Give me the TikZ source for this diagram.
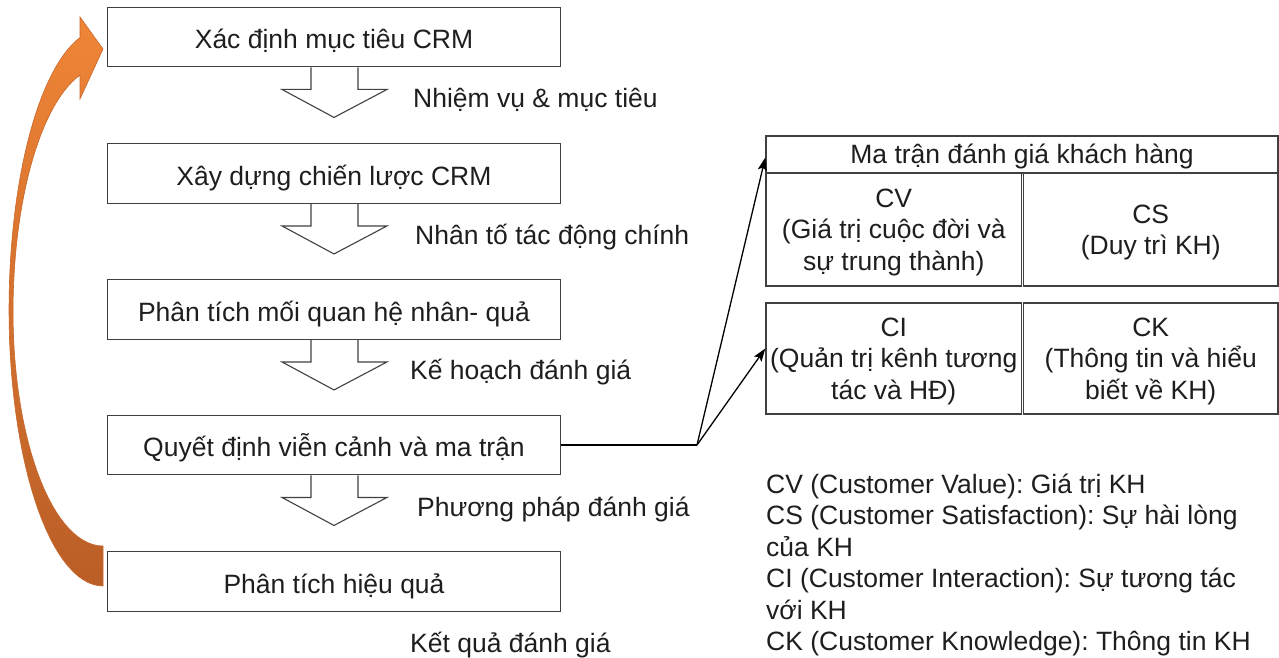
\documentclass[tikz,border=0pt]{standalone}
\usepackage{fontspec}
\setmainfont{Liberation Sans}
\frenchspacing
\usetikzlibrary{arrows.meta,calc}

\definecolor{edge}{HTML}{404040}
\definecolor{ink}{HTML}{1E1E1E}
\definecolor{orangetop}{HTML}{EF8536}
\definecolor{orangebot}{HTML}{BA5E27}
\definecolor{orangeedge}{HTML}{C8672C}

% first-line strut that lowers multi-line cell text a little
\newcommand\toppad{\rule{0pt}{24pt}}

\tikzset{
  txt/.style={text=ink, font=\fontsize{26.5}{31.5}\selectfont},
  stepbox/.style={txt, draw=edge, line width=1.4pt, minimum width=453pt,
    minimum height=59.5pt, inner sep=0pt, text height=23pt, text depth=0pt},
  cell/.style={draw=edge, line width=1.4pt, inner sep=0pt, align=center,
    text=ink, font=\fontsize{26.5}{31.5}\selectfont},
  flowlabel/.style={txt, anchor=base west, inner sep=0pt},
  blockarrow/.style={draw=edge, line width=1.1pt, line join=miter},
  link/.style={draw=black, line width=1.3pt,
    -{Stealth[length=13pt,width=9pt,inset=2.5pt]}},
  feedback/.style={top color=orangetop, bottom color=orangebot,
    draw=orangeedge, line width=0.6pt},
  legend/.style={align=left, inner sep=0pt, text=ink,
    font=\fontsize{26.5}{31.5}\selectfont}
}

% hollow block arrow hanging below a step box
\newcommand\flowarrow[1]{%
  \draw[blockarrow] ($(#1.south)+(-23,0)$) -- ++(0,22) -- ++(-29,0)
    -- ++(52,28) -- ++(53,-28) -- ++(-29,0) -- ++(0,-22);}

\begin{document}
\begin{tikzpicture}[x=1pt,y=-1pt]
\useasboundingbox (0,0) rectangle (1279,658);

% feedback arrow from the last step back to the first
\path[feedback] (103,546)
  -- plot[domain=90:180,samples=30] ({103+90*cos(\x)},{312+234*sin(\x)})
  -- plot[domain=180:255.2,samples=30] ({103+90*cos(\x)},{312+245*sin(\x)})
  -- (80,99) -- (103,49) -- (80,17) -- (80,38)
  -- plot[domain=255.8:180,samples=30] ({103+94*cos(\x)},{310+281*sin(\x)})
  -- plot[domain=180:90,samples=30] ({103+94*cos(\x)},{310+276*sin(\x)})
  -- cycle;

% process steps
\node[stepbox] (b1) at (334,37)    {Xác định mục tiêu CRM};
\node[stepbox] (b2) at (334,173.5) {Xây dựng chiến lược CRM};
\node[stepbox] (b3) at (334,309.5) {Phân tích mối quan hệ nhân- quả};
\node[stepbox] (b4) at (334,445)   {Quyết định viễn cảnh và ma trận};
\node[stepbox] (b5) at (334,581.5) {Phân tích hiệu quả};

\flowarrow{b1}
\flowarrow{b2}
\flowarrow{b3}
\flowarrow{b4}

\node[flowlabel] (l1) at (413,108) {Nhiệm vụ \& mục tiêu};
\node[flowlabel] (l2) at (415,244) {Nhân tố tác động chính};
\node[flowlabel] (l3) at (410,379) {Kế hoạch đánh giá};
\node[flowlabel] (l4) at (417,516) {Phương pháp đánh giá};
\node[flowlabel] (l5) at (410,652) {Kết quả đánh giá};

% customer evaluation matrix
\node[cell, minimum width=512pt, minimum height=37pt,
      text height=19pt, text depth=0pt] (mt) at (1022,154.5)
  {Ma trận đánh giá khách hàng};
\node[cell, minimum width=255.5pt, minimum height=113pt] (cv) at (893.75,229.5)
  {\toppad CV\\(Giá trị cuộc đời và\\sự trung thành)};
\node[cell, minimum width=254.5pt, minimum height=113pt] (cs) at (1150.75,229.5)
  {\toppad CS\\(Duy trì KH)};
\node[cell, minimum width=255.5pt, minimum height=111pt] (ci) at (893.75,358.5)
  {\toppad CI\\(Quản trị kênh tương\\tác và HĐ)};
\node[cell, minimum width=254.5pt, minimum height=111pt] (ck) at (1150.75,358.5)
  {\toppad CK\\(Thông tin và hiểu\\biết về KH)};

% links from the decision step to the matrix
\coordinate (j) at (697,445);
\draw[line width=1.3pt] (b4.east) -- (j);
\draw[link] (j) -- ([yshift=-3pt]mt.west);
\draw[link] (j) -- ([yshift=10pt]ci.west);

% abbreviations
\node[legend, anchor=north west] (lg) at (766,473)
  {\rule{0pt}{20pt}CV (Customer Value): Giá trị KH\\
   CS (Customer Satisfaction): Sự hài lòng\\
   của KH\\
   CI (Customer Interaction): Sự tương tác\\
   với KH\\
   CK (Customer Knowledge): Thông tin KH};
\end{tikzpicture}
\end{document}
